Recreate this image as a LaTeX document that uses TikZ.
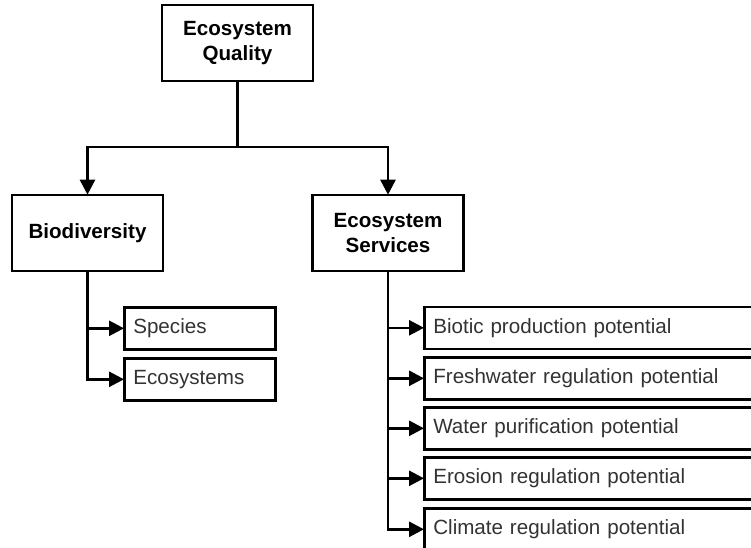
\documentclass[tikz,border=0pt]{standalone}
\usepackage{fontspec}
\setmainfont{Liberation Sans}
\usetikzlibrary{arrows.meta}
\begin{document}
\begin{tikzpicture}[x=1pt,y=-1pt,
  box/.style={draw=black, line width=2.6pt, fill=white, inner sep=0pt},
  bigbox/.style={box, minimum width=151pt, minimum height=76pt, align=center,
    font=\fontsize{20.6}{25}\selectfont\bfseries},
  smallbox/.style={box, minimum height=42pt, anchor=north west, align=left,
    inner xsep=9pt, text=black!80, font=\fontsize{20.6}{23}\selectfont},
  conn/.style={line width=2.6pt, draw=black},
  arr/.style={conn, -{Triangle[length=15pt,width=15pt]}, shorten >=-1pt}
]
\useasboundingbox (0,0) rectangle (751,547);
\node[bigbox] (top) at (237.5,43) {Ecosystem\\Quality};
\node[bigbox] (bio) at (87.5,233) {Biodiversity};
\node[bigbox] (es) at (388,233) {Ecosystem\\Services};

\node[smallbox, text width=133pt] (sp) at (123,306) {Species};
\node[smallbox, text width=133pt] (eco) at (123,357) {Ecosystems};

\node[smallbox, text width=320pt] (r1) at (423,305.5) {Biotic production potential};
\node[smallbox, text width=320pt] (r2) at (423,356) {Freshwater regulation potential};
\node[smallbox, text width=320pt] (r3) at (423,406) {Water purification potential};
\node[smallbox, text width=320pt] (r4) at (423,456) {Erosion regulation potential};
\node[smallbox, text width=320pt] (r5) at (423,507) {Climate regulation potential};

\coordinate (j) at (237.5,147);
\draw[conn] (top.south) -- (j);
\draw[arr] (j) -| (bio.north);
\draw[arr] (j) -| (es.north);

\draw[arr] (bio.south) |- (sp.west);
\draw[arr] (bio.south) |- (eco.west);

\foreach \n in {r1,r2,r3,r4,r5}{
  \draw[arr] (es.south) |- (\n.west);
}
\end{tikzpicture}
\end{document}
